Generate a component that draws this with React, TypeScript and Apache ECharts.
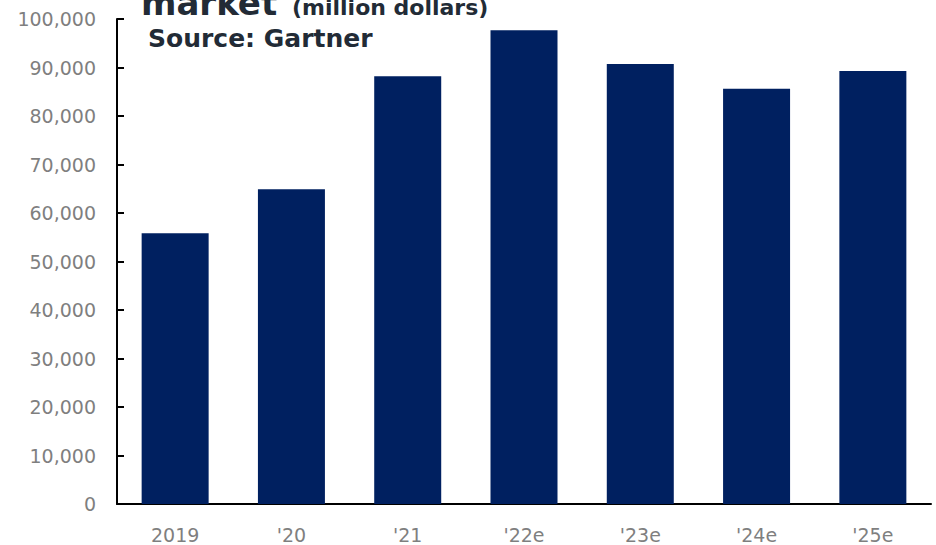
import React, { useEffect, useRef } from "react";
import * as echarts from "echarts";

const categories = ["2019", "'20", "'21", "'22e", "'23e", "'24e", "'25e"];
const marketValues = [55800, 64900, 88200, 97700, 90700, 85600, 89300];
const yMin = 0;
const yMax = 100000;
const yInterval = 10000;
const titleMain = "market";
const titleUnit = "(million dollars)";
const sourceText = "Source: Gartner";

export default function App() {
  const ref = useRef<HTMLDivElement>(null);
  useEffect(() => {
    if (!ref.current) return;
    const chart = echarts.init(ref.current, undefined, { renderer: "svg" });
    const font = "DejaVu Sans";
    chart.setOption({
      animation: false,
      backgroundColor: "#ffffff",
      grid: { left: 117, right: 5, top: 19, bottom: 41, containLabel: false },
      xAxis: {
        type: "category",
        data: categories,
        axisLine: { show: true, lineStyle: { color: "#000000", width: 2 } },
        axisTick: { show: false },
        axisLabel: { color: "#7f7f7f", fontFamily: font, fontSize: 19, margin: 21 },
      },
      yAxis: {
        type: "value",
        min: yMin,
        max: yMax,
        interval: yInterval,
        splitLine: { show: false },
        axisLine: { show: true, lineStyle: { color: "#000000", width: 2 } },
        axisTick: { show: true, inside: true, length: 7, lineStyle: { color: "#000000", width: 2 } },
        axisLabel: {
          color: "#7f7f7f",
          fontFamily: font,
          fontSize: 19,
          margin: 21,
          formatter: (v: number) => v.toLocaleString("en-US"),
        },
      },
      series: [
        {
          type: "bar",
          data: marketValues,
          barWidth: 67,
          itemStyle: { color: "#002060" },
        },
      ],
      graphic: [
        {
          type: "text",
          left: 141,
          top: -14,
          style: {
            text: titleMain,
            font: `bold 34px "${font}"`,
            fill: "#222b36",
          },
        },
        {
          type: "text",
          left: 292,
          top: -4,
          style: {
            text: titleUnit,
            font: `bold 22px "${font}"`,
            fill: "#222b36",
          },
        },
        {
          type: "text",
          left: 148,
          top: 26,
          style: {
            text: sourceText,
            font: `bold 25px "${font}"`,
            fill: "#222b36",
          },
        },
      ],
    });
    return () => chart.dispose();
  }, []);
  return (
    <div
      ref={ref}
      style={{ position: "fixed", left: 0, top: 0, width: 936, height: 545 }}
    />
  );
}
